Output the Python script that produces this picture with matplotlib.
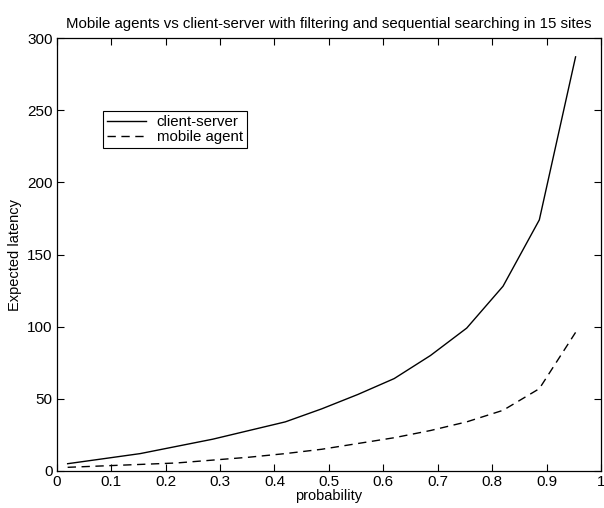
import matplotlib
matplotlib.use("Agg")
import matplotlib.pyplot as plt

plt.rcParams['font.family'] = ['Liberation Sans', 'DejaVu Sans']

probability = [0.02, 0.0867, 0.1533, 0.22, 0.2867, 0.3533, 0.42, 0.4867,
               0.5533, 0.62, 0.6867, 0.7533, 0.82, 0.8867, 0.9533]
client_server = [5, 8.5, 12, 17, 22, 28, 34, 43, 53, 64, 80, 99, 128, 174, 287]
mobile_agent = [2.5, 3.5, 4.5, 5.5, 7.5, 9.5, 12, 15, 19, 23, 28, 34, 42, 57, 96]

xticks = [0, 0.1, 0.2, 0.3, 0.4, 0.5, 0.6, 0.7, 0.8, 0.9, 1]
xticklabels = ['0', '0.1', '0.2', '0.3', '0.4', '0.5', '0.6', '0.7', '0.8', '0.9', '1']
yticks = [0, 50, 100, 150, 200, 250, 300]

fig = plt.figure(figsize=(6.04, 5.08), dpi=100)
ax = fig.add_axes([0.094, 0.073, 0.901, 0.852])
ax.plot(probability, client_server, color='black', lw=1.0, linestyle='-', label='client-server')
ax.plot(probability, mobile_agent, color='black', lw=1.0, linestyle=(0, (6, 4)), label='mobile agent')
ax.set_xlim(0, 1)
ax.set_ylim(0, 300)
ax.set_xticks(xticks)
ax.set_xticklabels(xticklabels)
ax.set_yticks(yticks)
ax.tick_params(direction='in', top=True, right=True, labelsize=11, length=5, width=0.8, pad=3)
for s in ax.spines.values():
    s.set_linewidth(0.9)
ax.set_xlabel('probability', fontsize=10.5, labelpad=0)
ax.set_ylabel('Expected latency', fontsize=10.5, labelpad=4)
ax.set_title('Mobile agents vs client-server with filtering and sequential searching in 15 sites',
             fontsize=10.8, pad=7)
leg = ax.legend(loc='upper left', bbox_to_anchor=(0.072, 0.848), fontsize=10.8,
                frameon=True, fancybox=False, edgecolor='black', framealpha=1,
                handlelength=2.6, borderpad=0.25, labelspacing=0.05, handletextpad=0.7)
leg.get_frame().set_linewidth(0.8)
fig.savefig('out.png', dpi=100)
